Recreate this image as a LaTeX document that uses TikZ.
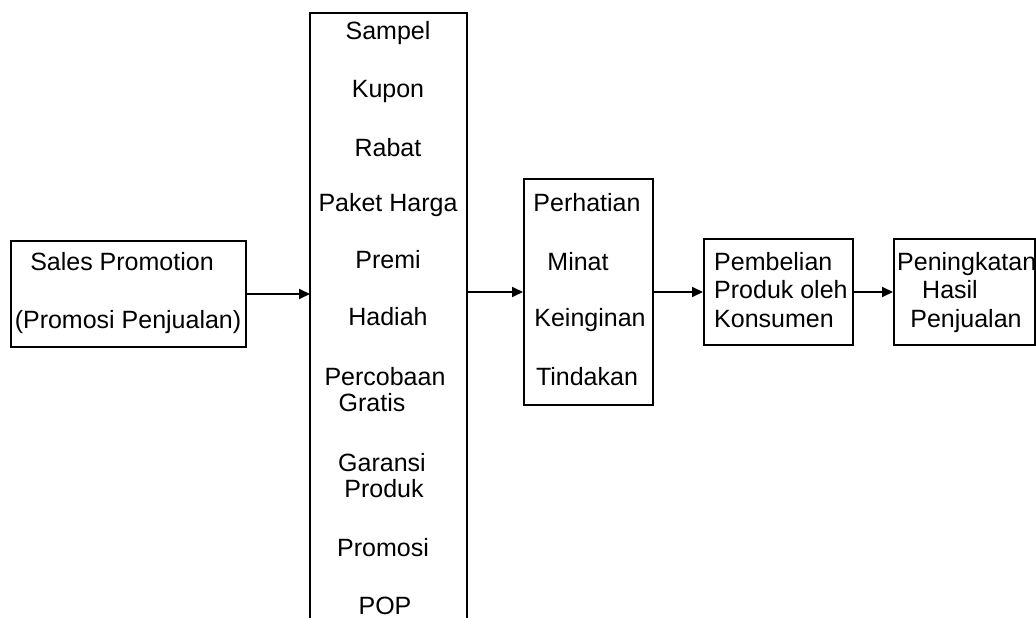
\documentclass[tikz,border=0pt]{standalone}
\usepackage{fontspec}
\setmainfont{Liberation Sans}
\usetikzlibrary{arrows.meta}
\begin{document}
\begin{tikzpicture}[x=1pt,y=-1pt,
  box/.style={draw, line width=2pt, rectangle, inner sep=0pt, anchor=north west},
  lbl/.style={inner sep=0pt, anchor=base, font=\fontsize{25}{29}\selectfont},
  lbll/.style={lbl, anchor=base west},
  conn/.style={line width=1.8pt, -{Triangle[length=11pt,width=10pt]}}]
\useasboundingbox[fill=white] (0,0) rectangle (1036,618);
% boxes
\node[box, minimum width=235pt, minimum height=106pt] (sp) at (10,240) {};
\node[inner sep=0pt, minimum width=157pt, minimum height=620pt, anchor=north west] (tools) at (310,13) {};
\draw[line width=2pt] (tools.south west) -- (tools.north west) -- (tools.north east) -- (tools.south east);
\node[box, minimum width=129pt, minimum height=226pt] (aida) at (523,178) {};
\node[box, minimum width=149pt, minimum height=106pt] (buy) at (703,238) {};
\node[box, minimum width=141pt, minimum height=106pt] (sales) at (893,238) {};
% texts box 1
\node[lbl] (t1) at (122,270) {Sales Promotion};
\node[lbl] (t2) at (128,328) {(Promosi Penjualan)};
% texts big box
\node[lbl] (s1) at (388,40) {Sampel};
\node[lbl] (s2) at (388,97) {Kupon};
\node[lbl] (s3) at (388,156) {Rabat};
\node[lbl] (s4) at (388,211) {Paket Harga};
\node[lbl] (s5) at (388,268) {Premi};
\node[lbl] (s6) at (388,325) {Hadiah};
\node[lbl] (s7) at (385,385) {Percobaan};
\node[lbl] (s8) at (372,411) {Gratis};
\node[lbl] (s9) at (382,471) {Garansi};
\node[lbl] (s10) at (384,497) {Produk};
\node[lbl] (s11) at (383,556) {Promosi};
\node[lbl] (s12) at (385,614) {POP};
% texts AIDA
\node[lbl] (a1) at (587,211) {Perhatian};
\node[lbl] (a2) at (578,270) {Minat};
\node[lbl] (a3) at (590,326) {Keinginan};
\node[lbl] (a4) at (587,385) {Tindakan};
% texts buy
\node[lbll] (b1) at (714,270) {Pembelian};
\node[lbll] (b2) at (714,298) {Produk oleh};
\node[lbll] (b3) at (714,327) {Konsumen};
% texts sales
\node[lbll] (h1) at (897,270) {Peningkatan};
\node[lbl] (h2) at (950,298) {Hasil};
\node[lbl] (h3) at (966,327) {Penjualan};
% connectors
\draw[conn] (sp.east) -- (tools.west |- sp.east);
\draw[conn] (tools.east |- aida.west) -- (aida.west);
\draw[conn] (aida.east) -- (buy.west);
\draw[conn] (buy.east) -- (sales.west);
\end{tikzpicture}
\end{document}
